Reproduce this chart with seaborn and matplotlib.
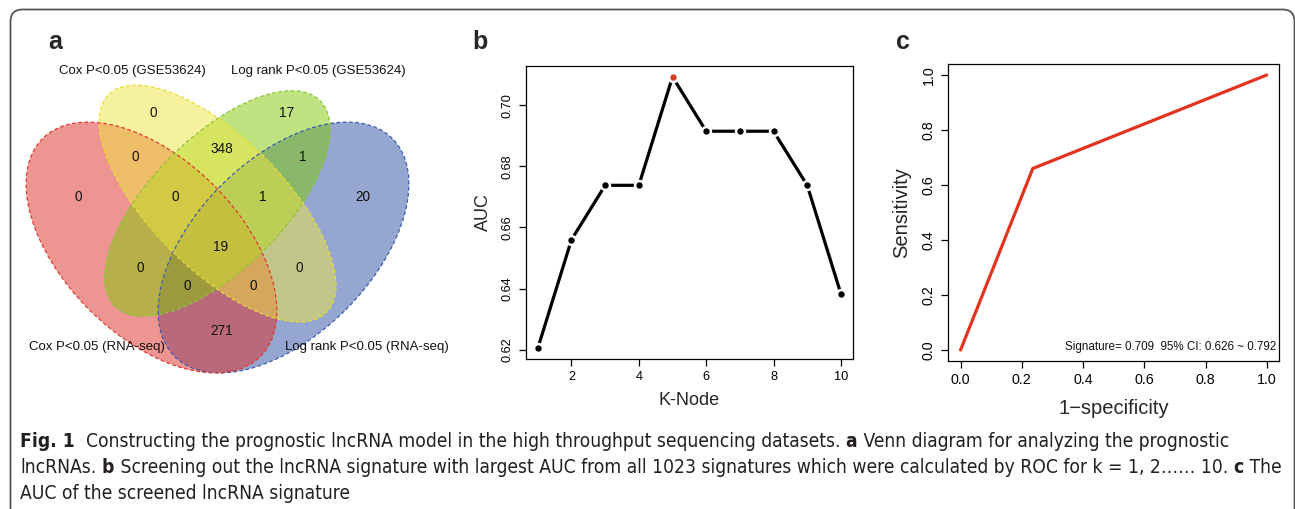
import os
import numpy as np
import pandas as pd
import matplotlib
matplotlib.use("Agg")
import matplotlib.pyplot as plt
import seaborn as sns
from matplotlib.patches import Ellipse, FancyBboxPatch
from matplotlib.transforms import IdentityTransform
from matplotlib import font_manager as fm

# ---------------- data ----------------
# Panel a: Venn diagram
venn_set_names = ["Cox P<0.05 (RNA-seq)", "Cox P<0.05 (GSE53624)",
                  "Log rank P<0.05 (GSE53624)", "Log rank P<0.05 (RNA-seq)"]
venn_regions = ["Y", "G", "YG", "RY", "GB", "R", "RYG", "YGB", "B",
                "RYGB", "RG", "YB", "RGB", "RYB", "RB"]
venn_counts = [0, 17, 348, 0, 1, 0, 0, 1, 20, 19, 0, 0, 0, 0, 271]

# Panel b: AUC per K-node
k_node = [1, 2, 3, 4, 5, 6, 7, 8, 9, 10]
auc_values = [0.6205, 0.6560, 0.6738, 0.6738, 0.7093, 0.6915, 0.6915, 0.6915, 0.6738, 0.6383]
b_xticks = [2, 4, 6, 8, 10]
b_yticks = [0.62, 0.64, 0.66, 0.68, 0.70]

# Panel c: ROC curve
roc_fpr = [0.0, 0.236, 1.0]
roc_tpr = [0.0, 0.660, 1.0]
roc_ticks = [0.0, 0.2, 0.4, 0.6, 0.8, 1.0]
roc_text = "Signature= 0.709  95% CI: 0.626 ~ 0.792"

caption_lines = [
    [("Fig. 1", True),
     ("  Constructing the prognostic lncRNA model in the high throughput sequencing datasets.", False),
     (" a", True), (" Venn diagram for analyzing the prognostic", False)],
    [("lncRNAs.", False), (" b", True),
     (" Screening out the lncRNA signature with largest AUC from all 1023 signatures which were calculated by ROC for k = 1, 2\u2026\u2026 10.", False),
     (" c", True), (" The", False)],
    [("AUC of the screened lncRNA signature", False)],
]

# ---------------- layout / style (not data) ----------------
W, H = 1295, 509
sns.set_theme(style="ticks")
plt.rcParams["font.family"] = ["Liberation Sans", "DejaVu Sans"]
plt.rcParams["axes.linewidth"] = 0.9
plt.rcParams["xtick.major.width"] = 0.9
plt.rcParams["ytick.major.width"] = 0.9
plt.rcParams["xtick.color"] = "black"
plt.rcParams["ytick.color"] = "black"
plt.rcParams["axes.edgecolor"] = "black"

fig = plt.figure(figsize=(W / 100, H / 100), dpi=100)
fig.patch.set_facecolor("white")

def px_rect(x0, y0, x1, y1):
    return [x0 / W, (H - y1) / H, (x1 - x0) / W, (y1 - y0) / H]

# rounded frame
frame = FancyBboxPatch((10.5, -40), 1284, 539.5,
                       boxstyle="round,pad=0,rounding_size=12",
                       transform=IdentityTransform(), facecolor="none",
                       edgecolor="#555555", lw=1.3, zorder=0)
fig.add_artist(frame)

# ---------------- panel a: Venn ----------------
axa = fig.add_axes(px_rect(-2.5, 14.3, 437.5, 454.3))
axa.set_xlim(0, 1)
axa.set_ylim(0, 1)
axa.axis("off")

ellipses = {  # x, y, a, b, angle
    "R": (0.35, 0.47, 0.35, 0.20, 135),
    "Y": (0.50, 0.57, 0.35, 0.15, 135),
    "G": (0.50, 0.57, 0.33, 0.15, 45),
    "B": (0.65, 0.47, 0.35, 0.20, 45),
}
fills = {"R": (221/255, 45/255, 35/255), "Y": (239/255, 229/255, 65/255),
         "G": (129/255, 201/255, 5/255), "B": (45/255, 81/255, 165/255)}
edges = {"R": "#E23A30", "Y": "#E9DC3A", "G": "#8CC43A", "B": "#3D5DB0"}
for key in ["B", "R", "G", "Y"]:
    x, y, a, b, ang = ellipses[key]
    axa.add_patch(Ellipse((x, y), 2 * a, 2 * b, angle=ang,
                          facecolor=fills[key], alpha=0.5, edgecolor="none"))
for key in ["B", "R", "G", "Y"]:
    x, y, a, b, ang = ellipses[key]
    axa.add_patch(Ellipse((x, y), 2 * a, 2 * b, angle=ang, facecolor="none",
                          edgecolor=edges[key], lw=0.9, linestyle=(0, (3, 2))))

region_xy = {
    "Y": (0.353, 0.776), "G": (0.658, 0.776), "YG": (0.510, 0.694),
    "RY": (0.312, 0.676), "GB": (0.694, 0.676), "R": (0.183, 0.585),
    "RYG": (0.403, 0.585), "YGB": (0.603, 0.585), "B": (0.831, 0.585),
    "RYGB": (0.506, 0.471), "RG": (0.324, 0.423), "YB": (0.685, 0.423),
    "RGB": (0.431, 0.383), "RYB": (0.581, 0.383), "RB": (0.510, 0.280),
}
for reg, cnt in zip(venn_regions, venn_counts):
    x, y = region_xy[reg]
    axa.text(x, y, str(cnt), ha="center", va="center", fontsize=9.8, color="#111111")

set_xy = [(0.227, 0.2445), (0.306, 0.871), (0.728, 0.871), (0.839, 0.2445)]
for name, (x, y) in zip(venn_set_names, set_xy):
    axa.text(x, y, name, ha="center", va="center", fontsize=9.5, color="#111111")

# ---------------- panel b ----------------
axb = fig.add_axes(px_rect(525.7, 66, 853, 359))
df_b = pd.DataFrame({"K-Node": k_node, "AUC": auc_values})
sns.lineplot(data=df_b, x="K-Node", y="AUC", ax=axb, color="black", lw=2.3,
             marker="o", markersize=6.4, markerfacecolor="black",
             markeredgecolor="white", markeredgewidth=1.8)
best = int(np.argmax(auc_values))
sns.scatterplot(x=[k_node[best]], y=[auc_values[best]], ax=axb, color="#D2402A",
                s=41, edgecolor="white", linewidth=1.8, zorder=5)
xr = max(k_node) - min(k_node)
yr = max(auc_values) - min(auc_values)
axb.set_xlim(min(k_node) - 0.04 * xr, max(k_node) + 0.04 * xr)
axb.set_ylim(min(auc_values) - 0.04 * yr, max(auc_values) + 0.04 * yr)
axb.set_xticks(b_xticks)
axb.set_yticks(b_yticks)
axb.set_yticklabels([f"{v:.2f}" for v in b_yticks], rotation=90, va="center")
axb.tick_params(axis="both", direction="out", length=5, labelsize=9.2, pad=4)
axb.set_xlabel("K-Node", fontsize=13, labelpad=6)
axb.set_ylabel("AUC", fontsize=13, labelpad=7)
for s in axb.spines.values():
    s.set_visible(True)

# ---------------- panel c ----------------
axc = fig.add_axes(px_rect(948.3, 64, 1279, 361))
df_c = pd.DataFrame({"fpr": roc_fpr, "tpr": roc_tpr})
sns.lineplot(data=df_c, x="fpr", y="tpr", ax=axc, color="#E2331F", lw=2.3,
             sort=False, estimator=None)
axc.set_xlim(-0.04, 1.04)
axc.set_ylim(-0.04, 1.04)
axc.set_xticks(roc_ticks)
axc.set_yticks(roc_ticks)
axc.set_xticklabels([f"{v:.1f}" for v in roc_ticks])
axc.set_yticklabels([f"{v:.1f}" for v in roc_ticks], rotation=90, va="center")
axc.tick_params(axis="both", direction="out", length=5, labelsize=10.3, pad=4)
axc.set_xlabel("1\u2212specificity", fontsize=14.5, labelpad=8)
axc.set_ylabel("Sensitivity", fontsize=14.5, labelpad=8)
axc.text(0.993, 0.048, roc_text, transform=axc.transAxes, ha="right",
         va="center", fontsize=8.4, color="#111111")
for s in axc.spines.values():
    s.set_visible(True)

# panel letters
for letter, (x, y) in zip("abc", [(55, 42), (480, 42), (903, 42)]):
    fig.text(x / W, 1 - y / H, letter, fontsize=18, fontweight="bold",
             ha="center", va="center")

# ---------------- caption ----------------
def weight_num(w):
    if isinstance(w, (int, float)):
        return int(w)
    return int(fm.weight_dict.get(str(w).lower(), 400))

def pick_caption_fonts():
    cands = []
    for e in fm.fontManager.ttflist:
        fn = os.path.basename(e.fname).lower()
        cond = (str(e.stretch) in ("condensed", "semi-condensed", "extra-condensed")
                or "condensed" in fn or "narrow" in fn or "cond" in fn)
        if not cond or e.style != "normal":
            continue
        cands.append((e, weight_num(e.weight)))
    regs = [c for c in cands if 300 <= c[1] <= 500]
    if regs:
        regs.sort(key=lambda c: abs(c[1] - 400))
        reg = regs[0][0]
        bolds = [c for c in cands if c[1] >= 600 and c[0].name == reg.name]
        if bolds:
            bolds.sort(key=lambda c: abs(c[1] - 700))
            return (fm.FontProperties(fname=reg.fname),
                    fm.FontProperties(fname=bolds[0][0].fname))
        return (fm.FontProperties(fname=reg.fname),
                fm.FontProperties(fname=reg.fname, weight="bold"))
    return (fm.FontProperties(family=["Lato", "DejaVu Sans"]),
            fm.FontProperties(family=["Lato", "DejaVu Sans"], weight="bold"))

fp_reg, fp_bold = pick_caption_fonts()
renderer = fig.canvas.get_renderer()

def draw_line(pieces, x0, ybase, fs, draw=True):
    x = x0
    arts = []
    for txt, bold in pieces:
        fp = (fp_bold if bold else fp_reg).copy()
        fp.set_size(fs)
        t = fig.text(x / W, 1 - ybase / H, txt, fontproperties=fp,
                     color="#231F20", ha="left", va="baseline")
        bb = t.get_window_extent(renderer)
        x += bb.width
        arts.append(t)
    if not draw:
        for t in arts:
            t.remove()
    return x - x0

fs0 = 11.0
w0 = draw_line(caption_lines[0], 20, 447, fs0, draw=False)
fs = fs0 * 1213.0 / w0
for pieces, yb in zip(caption_lines, [447, 473, 499]):
    draw_line(pieces, 20, yb, fs)

fig.savefig("out.png", dpi=100, facecolor="white")
